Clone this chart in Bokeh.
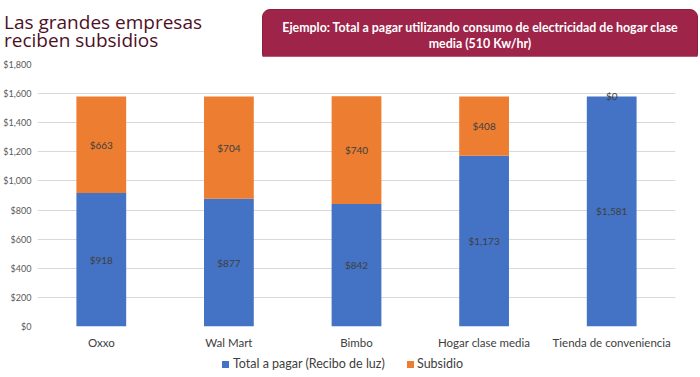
from bokeh.plotting import figure
from bokeh.models import (ColumnDataSource, LabelSet, Div,
                          FixedTicker, CustomJSTickFormatter)
from bokeh.layouts import column, row
from bokeh.core.properties import value
from bokeh.embed import file_html
from bokeh.resources import INLINE

# ---- data ----
categories = ["Oxxo", "Wal Mart", "Bimbo", "Hogar clase media", "Tienda de conveniencia"]
total_pagar = [918, 877, 842, 1173, 1581]
subsidio = [663, 704, 740, 408, 0]
series_names = ["Total a pagar (Recibo de luz)", "Subsidio"]
y_ticks = [0, 200, 400, 600, 800, 1000, 1200, 1400, 1600, 1800]
title_lines = ["Las grandes empresas", "reciben subsidios"]
box_lines = ["Ejemplo: Total a pagar utilizando consumo de electricidad de hogar clase",
             "media (510 Kw/hr)"]

BLUE = "#4472C4"
ORANGE = "#ED7D31"
FONT = "Lato"
series_colors = [BLUE, ORANGE]

TOTAL_W, HEAD_H, FIG_H, LEG_H = 700, 56, 296, 25

# ---- header ----
title_html = "".join(
    "<div style='height:18px; line-height:18px;'>" + t + "</div>" for t in title_lines)
title_div = Div(
    text="<div style='padding-left:4px; padding-top:13px; font-family:\"Open Sans\";"
         "font-size:19px; color:#4E0F1F; white-space:nowrap;'>" + title_html + "</div>",
    width=262, height=HEAD_H, margin=0)
box_html = "".join("<div style='height:16.5px; line-height:16.5px;'>" + t + "</div>"
                   for t in box_lines)
box_div = Div(
    text="<div style='margin-top:9px; width:436px; height:53px; box-sizing:border-box;"
         "background:#9E2449; border:1px solid #8A1E3E; border-radius:8px;"
         "display:flex; align-items:center; justify-content:center; text-align:center;"
         "font-family:Lato; font-weight:bold; font-size:12.4px; padding-top:1px;"
         "color:white; white-space:nowrap;'><div>" + box_html + "</div></div>",
    width=TOTAL_W - 262, height=HEAD_H, margin=0)

# ---- chart ----
FL = 36
p = figure(x_range=categories, y_range=(0, 1800), width=TOTAL_W, height=FIG_H,
           output_backend="svg", toolbar_location=None, margin=0,
           min_border_left=FL, min_border_right=25, min_border_top=8,
           min_border_bottom=26)
p.outline_line_color = None

src = ColumnDataSource(dict(
    cat=categories, total=total_pagar, sub=subsidio,
    mid_total=[t / 2 for t in total_pagar],
    mid_sub=[t + s / 2 for t, s in zip(total_pagar, subsidio)],
    lab_total=["${:,}".format(t) for t in total_pagar],
    lab_sub=["${:,}".format(s) for s in subsidio],
))

rs = p.vbar_stack(["total", "sub"], x="cat", width=0.39, color=series_colors,
                  line_color=None, source=src)

for ycol, tcol in (("mid_total", "lab_total"), ("mid_sub", "lab_sub")):
    p.add_layout(LabelSet(x="cat", y=ycol, text=tcol, source=src,
                          text_align="center", text_baseline="middle",
                          text_font=value(FONT), text_font_size="10px",
                          text_color="#404040"))

p.yaxis.ticker = FixedTicker(ticks=y_ticks)
p.yaxis.formatter = CustomJSTickFormatter(code="return '$' + tick.toLocaleString('en-US');")
p.yaxis.axis_line_color = None
p.yaxis.major_tick_line_color = None
p.yaxis.minor_tick_line_color = None
p.yaxis.major_tick_out = 0
p.yaxis.major_label_text_font = FONT
p.yaxis.major_label_text_font_size = "9px"
p.yaxis.major_label_text_color = "#595959"
p.yaxis.major_label_standoff = 6

p.xaxis.axis_line_color = None
p.xaxis.major_tick_line_color = None
p.xaxis.major_tick_out = 0
p.xaxis.major_label_text_font = FONT
p.xaxis.major_label_text_font_size = "11.5px"
p.xaxis.major_label_text_color = "#404040"
p.xaxis.major_label_standoff = 9

p.xgrid.grid_line_color = None
p.ygrid.grid_line_color = "#D9D9D9"
p.ygrid.grid_line_width = 1

# ---- legend (HTML, below the chart) ----
leg_pos = [(222, 233), (407, 417)]  # square left, text left (page px)
leg_items = ""
for (sq, tx), name, col in zip(leg_pos, series_names, series_colors):
    leg_items += ("<div style='position:absolute; left:%dpx; top:8.5px; width:7px;"
                  " height:7px; background:%s;'></div>" % (sq, col))
    leg_items += ("<div style='position:absolute; left:%dpx; top:4px; line-height:16px;"
                  " white-space:nowrap;'>%s</div>" % (tx, name))
legend_div = Div(
    text="<div style='position:relative; width:%dpx; height:%dpx; font-family:Lato;"
         " font-size:12.5px; color:#404040;'>%s</div>" % (TOTAL_W, LEG_H, leg_items),
    width=TOTAL_W, height=LEG_H, margin=0)

layout = column(row(title_div, box_div, spacing=0), p, legend_div, spacing=0)
open("out.html", "w").write(file_html(layout, INLINE))
